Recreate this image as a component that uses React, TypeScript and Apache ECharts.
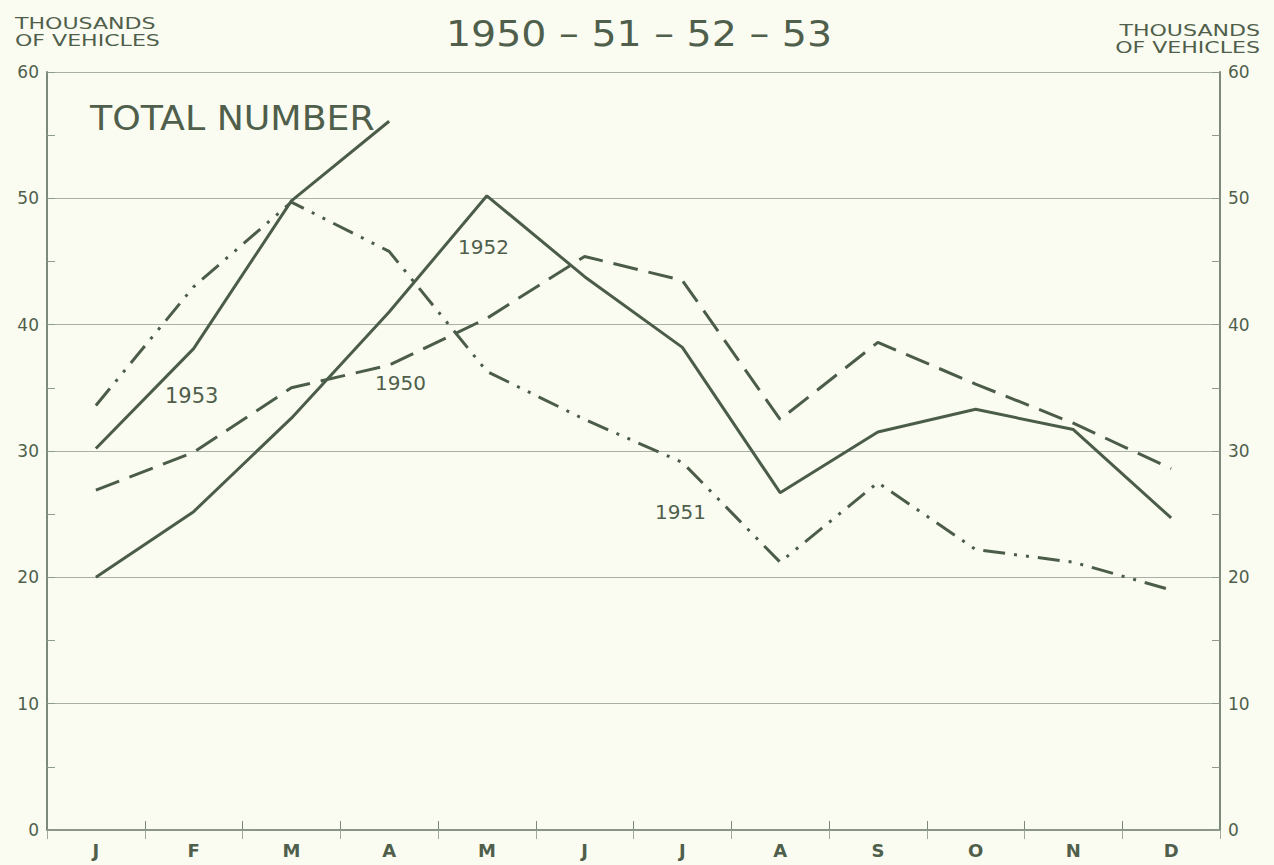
import React, { useEffect, useRef } from "react";
import * as echarts from "echarts";

const months = ["J", "F", "M", "A", "M", "J", "J", "A", "S", "O", "N", "D"];
const y1950 = [26.9, 29.9, 35.0, 36.8, 40.5, 45.4, 43.5, 32.5, 38.6, 35.3, 32.2, 28.6];
const y1951 = [33.6, 43.0, 49.7, 45.8, 36.3, 32.5, 29.1, 21.2, 27.5, 22.2, 21.2, 19.0];
const y1952 = [20.0, 25.2, 32.6, 41.0, 50.2, 43.8, 38.2, 26.7, 31.5, 33.3, 31.7, 24.7];
const y1953 = [30.2, 38.1, 49.8, 56.1, null, null, null, null, null, null, null, null];
const yTicks = [0, 10, 20, 30, 40, 50, 60];

const INK = "#4b5d49";
const TEXT = "#4f5f4c";
const FONT = "DejaVu Sans";

export default function App() {
  const ref = useRef<HTMLDivElement>(null);
  useEffect(() => {
    if (!ref.current) return;
    const chart = echarts.init(ref.current, null, { renderer: "svg" });
    const axisLine = { show: true, lineStyle: { color: "#7d8a79", width: 2 } };
    const yAxisBase = {
      type: "value",
      min: yTicks[0],
      max: yTicks[yTicks.length - 1],
      interval: 10,
      axisLine,
      axisTick: { show: true, inside: true, length: 8, lineStyle: { color: "#8e9a8a" } },
      minorTick: { show: true, splitNumber: 2, length: 8, lineStyle: { color: "#8e9a8a" } },
      axisLabel: { color: TEXT, fontFamily: FONT, fontSize: 17, margin: 8 },
    };
    const label = (text: string, x: number, y: number, size: number, sx = 1) => ({
      type: "text",
      x,
      y,
      scaleX: sx,
      style: { text, fill: TEXT, font: `${size}px "${FONT}"`, verticalAlign: "top" },
    });
    chart.setOption({
      animation: false,
      backgroundColor: "#fbfcf1",
      grid: { left: 47, right: 54, top: 72, bottom: 35 },
      xAxis: [
        {
          type: "category",
          data: months,
          boundaryGap: true,
          axisLine,
          axisTick: { show: true, inside: true, length: 9, lineStyle: { color: "#7d8a79" } },
          axisLabel: { color: TEXT, fontFamily: FONT, fontSize: 18, fontWeight: "bold", margin: 11 },
        },
        {
          type: "category",
          data: months,
          position: "top",
          boundaryGap: true,
          axisLine: { show: true, lineStyle: { color: "#8e9a8a", width: 1.5 } },
          axisTick: { show: true, inside: true, length: 9, lineStyle: { color: "#a0aa9c" } },
          axisLabel: { show: false },
        },
      ],
      yAxis: [
        {
          ...yAxisBase,
          position: "left",
          splitLine: { show: true, lineStyle: { color: "#a9b0a6", width: 1 } },
        },
        {
          ...yAxisBase,
          position: "right",
          splitLine: { show: false },
        },
      ],
      series: [
        {
          name: "1950",
          type: "line",
          data: y1950,
          symbol: "none",
          lineStyle: { color: INK, width: 3, type: [25, 11] },
        },
        {
          name: "1951",
          type: "line",
          data: y1951,
          symbol: "none",
          lineStyle: { color: INK, width: 3, type: [22, 9, 3, 9, 3, 9] },
        },
        {
          name: "1952",
          type: "line",
          data: y1952,
          symbol: "none",
          lineStyle: { color: INK, width: 3 },
        },
        {
          name: "1953",
          type: "line",
          data: y1953,
          symbol: "none",
          lineStyle: { color: INK, width: 3 },
        },
      ],
      graphic: [
        {
          type: "text",
          x: 639,
          y: 16,
          scaleX: 1.13,
          style: {
            text: "1950 – 51 – 52 – 53",
            fill: TEXT,
            font: `35px "${FONT}"`,
            align: "center",
            verticalAlign: "top",
          },
        },
        {
          type: "text",
          x: 15,
          y: 15,
          scaleX: 1.38,
          style: {
            text: "THOUSANDS\nOF VEHICLES",
            fill: TEXT,
            font: `16px "${FONT}"`,
            lineHeight: 17,
            verticalAlign: "top",
          },
        },
        {
          type: "text",
          x: 1260,
          y: 22,
          scaleX: 1.38,
          style: {
            text: "THOUSANDS\nOF VEHICLES",
            fill: TEXT,
            font: `16px "${FONT}"`,
            lineHeight: 17,
            align: "right",
            verticalAlign: "top",
          },
        },
        label("TOTAL NUMBER", 90, 102, 33, 1.1),
        label("1953", 165, 385, 21),
        label("1950", 375, 373, 20),
        label("1952", 458, 237, 20),
        label("1951", 655, 502, 20),
      ],
    });
    return () => chart.dispose();
  }, []);
  return (
    <div
      ref={ref}
      style={{ position: "fixed", left: 0, top: 0, width: 1274, height: 865 }}
    />
  );
}
